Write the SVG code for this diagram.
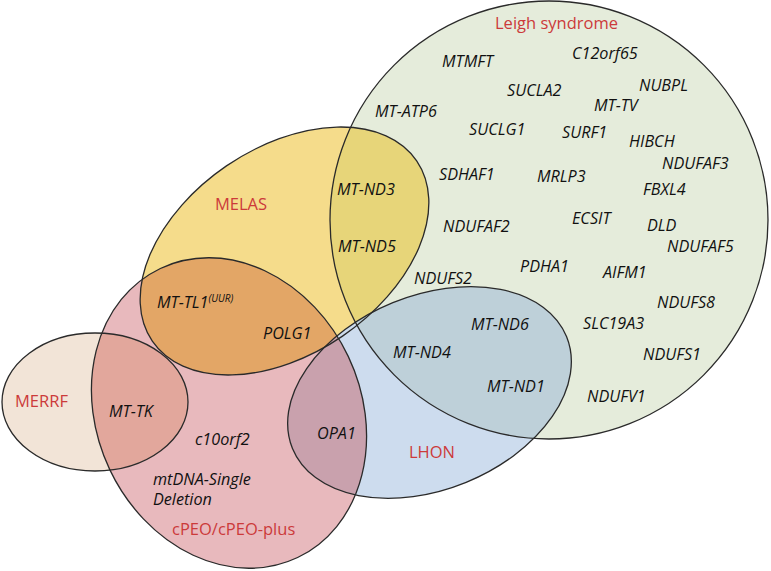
<svg xmlns="http://www.w3.org/2000/svg" xmlns:xlink="http://www.w3.org/1999/xlink" width="771" height="571" viewBox="0 0 771 571">
<style>
.ol{fill:none;stroke:#2a2a2a;stroke-width:1.3}
.lab{font-family:"Open Sans","Noto Sans","Liberation Sans",sans-serif;font-size:16.5px;fill:#cc3a3a}
.gene{font-family:"Open Sans","Noto Sans","Liberation Sans",sans-serif;font-size:16.2px;font-style:italic;fill:#111}
.sup{font-size:10px}
</style>
<defs>
<circle id="sLeigh" cx="549" cy="220" r="219"/>
<ellipse id="sMelas" cx="284.5" cy="251" rx="160" ry="103" transform="rotate(-34.3 284.5 251)"/>
<ellipse id="sCpeo" cx="229" cy="413" rx="132" ry="160" transform="rotate(-25.4 229 413)"/>
<ellipse id="sMerrf" cx="95" cy="402" rx="93" ry="69"/>
<ellipse id="sLhon" cx="429.5" cy="392.5" rx="148" ry="97" transform="rotate(-22.2 429.5 392.5)"/>
<clipPath id="cLeigh"><use href="#sLeigh"/></clipPath>
<clipPath id="cCpeo"><use href="#sCpeo"/></clipPath>
</defs>
<rect width="771" height="571" fill="#ffffff"/>
<g id="fills">
<use href="#sLeigh" fill="#e5ecdb"/>
<use href="#sMelas" fill="#f5dc8b"/>
<use href="#sCpeo" fill="#e8b9bd"/>
<use href="#sMerrf" fill="#f2e4d7"/>
<use href="#sLhon" fill="#cddcee"/>
</g>
<g id="overlaps">
<use href="#sMelas" fill="#e7d579" clip-path="url(#cLeigh)"/>
<use href="#sMelas" fill="#e3a666" clip-path="url(#cCpeo)"/>
<use href="#sMerrf" fill="#e2a79c" clip-path="url(#cCpeo)"/>
<use href="#sLhon" fill="#bed0d9" clip-path="url(#cLeigh)"/>
<use href="#sLhon" fill="#c9a1ad" clip-path="url(#cCpeo)"/>
</g>
<g id="leigh">
<use href="#sLeigh" class="ol"/>
<text class="lab" x="495" y="29">Leigh syndrome</text>
</g>
<g id="melas">
<use href="#sMelas" class="ol"/>
<text class="lab" x="215" y="210">MELAS</text>
</g>
<g id="cpeo">
<use href="#sCpeo" class="ol"/>
<text class="lab" x="172" y="535">cPEO/cPEO-plus</text>
</g>
<g id="merrf">
<use href="#sMerrf" class="ol"/>
<text class="lab" x="15" y="407">MERRF</text>
</g>
<g id="lhon">
<use href="#sLhon" class="ol"/>
<text class="lab" x="409" y="458">LHON</text>
</g>
<g id="genes" class="gene">
<text x="442" y="67">MTMFT</text>
<text x="572" y="59">C12orf65</text>
<text x="507" y="96">SUCLA2</text>
<text x="639" y="91">NUBPL</text>
<text x="594" y="111">MT-TV</text>
<text x="375" y="117">MT-ATP6</text>
<text x="469" y="135">SUCLG1</text>
<text x="562" y="138">SURF1</text>
<text x="629" y="147">HIBCH</text>
<text x="662" y="169">NDUFAF3</text>
<text x="439" y="180">SDHAF1</text>
<text x="537" y="182">MRLP3</text>
<text x="643" y="195">FBXL4</text>
<text x="572" y="224">ECSIT</text>
<text x="443" y="232">NDUFAF2</text>
<text x="647" y="231">DLD</text>
<text x="667" y="252">NDUFAF5</text>
<text x="520" y="272">PDHA1</text>
<text x="603" y="278">AIFM1</text>
<text x="414" y="284">NDUFS2</text>
<text x="657" y="308">NDUFS8</text>
<text x="471" y="330">MT-ND6</text>
<text x="583" y="329">SLC19A3</text>
<text x="393" y="358">MT-ND4</text>
<text x="643" y="360">NDUFS1</text>
<text x="487" y="392">MT-ND1</text>
<text x="587" y="402">NDUFV1</text>
<text x="337" y="195">MT-ND3</text>
<text x="338" y="252">MT-ND5</text>
<text x="157" y="308">MT-TL1<tspan class="sup" dy="-6">(UUR)</tspan></text>
<text x="263" y="339">POLG1</text>
<text x="109" y="417">MT-TK</text>
<text x="195" y="445">c10orf2</text>
<text x="317" y="439">OPA1</text>
<text x="153" y="485">mtDNA-Single</text>
<text x="153" y="505">Deletion</text>
</g>
</svg>
